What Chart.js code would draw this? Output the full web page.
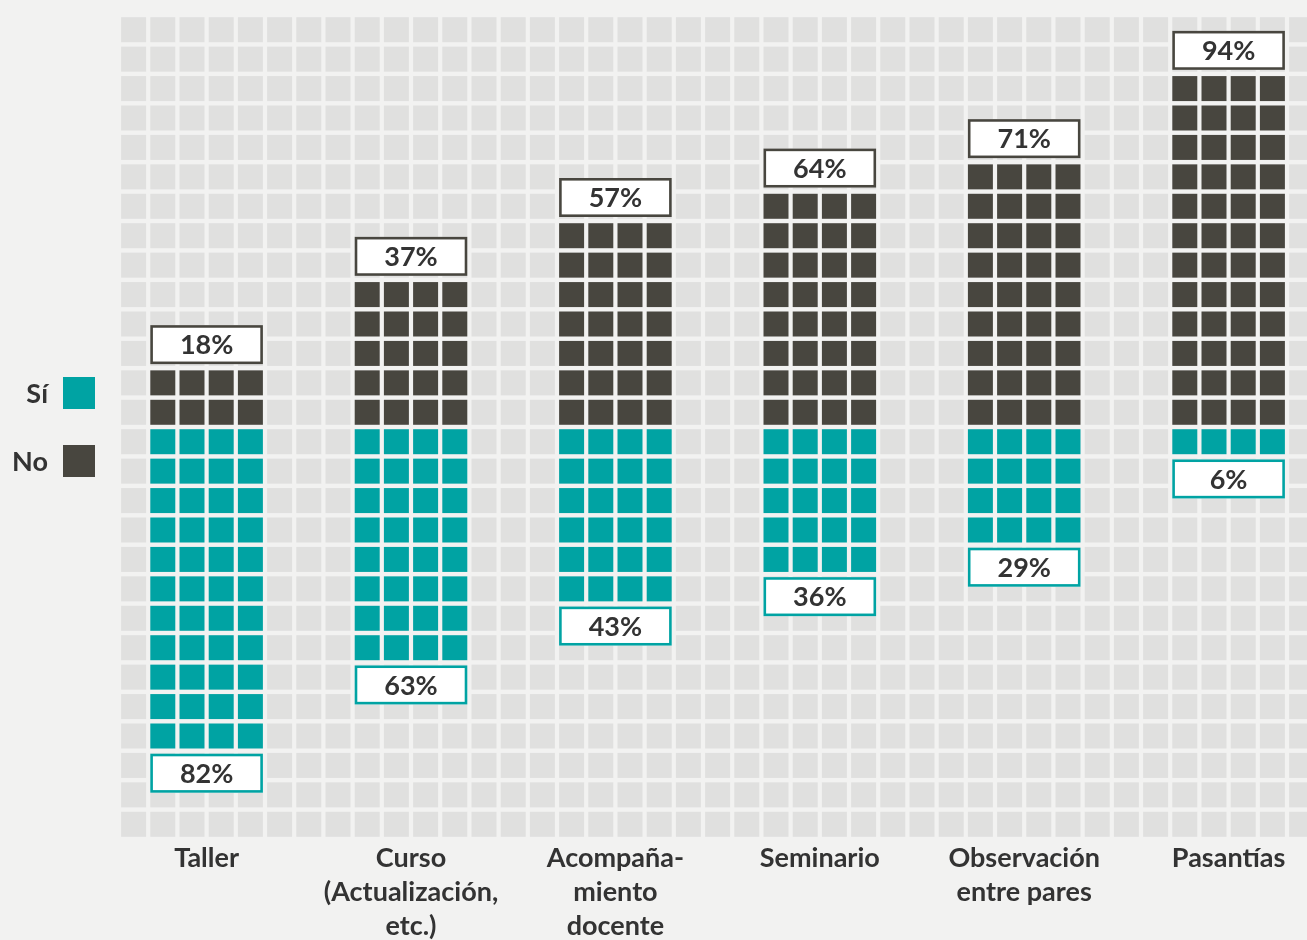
<!DOCTYPE html>
<html>
<head>
<meta charset="utf-8">
<script src="https://cdn.jsdelivr.net/npm/chart.js@4/dist/chart.umd.min.js"></script>
<style>
html,body{margin:0;padding:0;background:#f2f2f1;}
#wrap{width:1307px;height:940px;position:relative;overflow:hidden;}
</style>
</head>
<body>
<div id="wrap"><canvas id="c" width="1307" height="940"></canvas></div>
<script>
// ---- data ----
const categories = ['Taller', ['Curso', '(Actualización,', 'etc.)'], ['Acompaña-', 'miento', 'docente'], 'Seminario', ['Observación', 'entre pares'], 'Pasantías'];
const siValues = [82, 63, 43, 36, 29, 6];
const noValues = [18, 37, 57, 64, 71, 94];
const seriesNames = ['Sí', 'No'];
const percentLabelsSi = siValues.map(v => v + '%');
const percentLabelsNo = noValues.map(v => v + '%');

// ---- layout constants (waffle grid) ----
const CELLS_PER_STACK = 13;     // rows representing 100 %
const GRID_COLS = 41;
const HALF_ROWS = 14;
const FIRST_COL = 1, COL_STEP = 7, BLOCK_W = 4;
const GAP = 4.2;

const COLORS = { si: '#00a3a3', no: '#48463f', cell: '#e0e0df', bg: '#f2f2f1', text: '#333333' };
const FONT = 'Lato';

const blockStart = i => FIRST_COL + i * COL_STEP;
const rowsOf = v => Math.round(v * CELLS_PER_STACK / 100);

const siPts = [], noPts = [], occupied = new Set();
categories.forEach((c, i) => {
  const s = blockStart(i);
  for (let r = 0; r < rowsOf(siValues[i]); r++)
    for (let k = 0; k < BLOCK_W; k++) { siPts.push({ x: s + k, y: -(r + 0.5) }); occupied.add((s + k) + ':' + (-(r + 0.5))); }
  for (let r = 0; r < rowsOf(noValues[i]); r++)
    for (let k = 0; k < BLOCK_W; k++) { noPts.push({ x: s + k, y: r + 0.5 }); occupied.add((s + k) + ':' + (r + 0.5)); }
});
const bgPts = [];
for (let c = 0; c < GRID_COLS; c++)
  for (let r = -HALF_ROWS; r < HALF_ROWS; r++) {
    const y = r + 0.5;
    if (!occupied.has(c + ':' + y)) bgPts.push({ x: c, y: y });
  }
const tickValues = categories.map((c, i) => blockStart(i) + (BLOCK_W - 1) / 2);

const cellRadius = ctx => {
  const s = ctx.chart.scales.x;
  const size = (s.getPixelForValue(1) - s.getPixelForValue(0)) - GAP;
  return size / Math.SQRT2;
};

const bgPlugin = {
  id: 'bgfill',
  beforeDraw(chart) {
    const c = chart.ctx;
    c.save(); c.fillStyle = COLORS.bg; c.fillRect(0, 0, chart.width, chart.height); c.restore();
  }
};

const labelPlugin = {
  id: 'boxes',
  afterDatasetsDraw(chart) {
    const c = chart.ctx, xs = chart.scales.x, ys = chart.scales.y;
    c.save();
    c.font = 'bold 27px ' + FONT;
    c.textAlign = 'center';
    c.textBaseline = 'middle';
    const H = 39;
    categories.forEach((cat, i) => {
      const s = blockStart(i);
      const x0 = xs.getPixelForValue(s - 0.5) + GAP / 2;
      const x1 = xs.getPixelForValue(s + BLOCK_W - 0.5) - GAP / 2;
      // No label above
      const nNo = rowsOf(noValues[i]);
      const bNo = ys.getPixelForValue(nNo) - 4;
      drawBox(c, x0, bNo - H, x1 - x0, H, COLORS.no, percentLabelsNo[i]);
      const nSi = rowsOf(siValues[i]);
      const tSi = ys.getPixelForValue(-nSi) + 3;
      drawBox(c, x0, tSi, x1 - x0, H, COLORS.si, percentLabelsSi[i]);
    });
    // legend
    const series = [{ name: seriesNames[0], color: COLORS.si }, { name: seriesNames[1], color: COLORS.no }];
    const midY = (chart.chartArea.top + chart.chartArea.bottom) / 2;
    series.forEach((s, j) => {
      const cy = midY - 34 + j * 68;
      c.fillStyle = s.color;
      c.fillRect(63, cy - 16, 32, 32);
      c.fillStyle = COLORS.text;
      c.textAlign = 'right';
      c.fillText(s.name, 48, cy + 1);
    });
    c.restore();
  }
};
function drawBox(c, x, y, w, h, color, txt) {
  c.fillStyle = '#ffffff';
  c.fillRect(x, y, w, h);
  c.lineWidth = 2.6;
  c.strokeStyle = color;
  c.strokeRect(x + 1.3, y + 1.3, w - 2.6, h - 2.6);
  c.fillStyle = COLORS.text;
  c.textAlign = 'center';
  c.fillText(txt, x + w / 2, y + h / 2 + 1);
}

new Chart(document.getElementById('c'), {
  type: 'scatter',
  data: {
    datasets: [
      { label: seriesNames[0], data: siPts, backgroundColor: COLORS.si },
      { label: seriesNames[1], data: noPts, backgroundColor: COLORS.no },
      { label: 'grid', data: bgPts, backgroundColor: COLORS.cell }
    ]
  },
  options: {
    responsive: false,
    animation: false,
    events: [],
    layout: { padding: { left: 119, top: 15, right: 0, bottom: 0 } },
    elements: { point: { pointStyle: 'rect', radius: cellRadius, borderWidth: 0, hoverRadius: cellRadius } },
    plugins: { legend: { display: false }, tooltip: { enabled: false } },
    scales: {
      x: {
        type: 'linear', min: -0.5, max: -0.5 + 1188 / 29.2, bounds: 'data',
        grid: { display: false, drawTicks: false }, border: { display: false },
        afterBuildTicks: s => { s.ticks = tickValues.map(v => ({ value: v })); },
        afterFit: s => { s.height = 101; },
        ticks: {
          autoSkip: false, maxRotation: 0, minRotation: 0, padding: 2,
          color: COLORS.text,
          font: { family: FONT, size: 27, weight: 'bold', lineHeight: 1.26 },
          callback: (v, i) => categories[i]
        }
      },
      y: { type: 'linear', display: false, min: -HALF_ROWS, max: HALF_ROWS }
    }
  },
  plugins: [bgPlugin, labelPlugin]
});
</script>
</body>
</html>
